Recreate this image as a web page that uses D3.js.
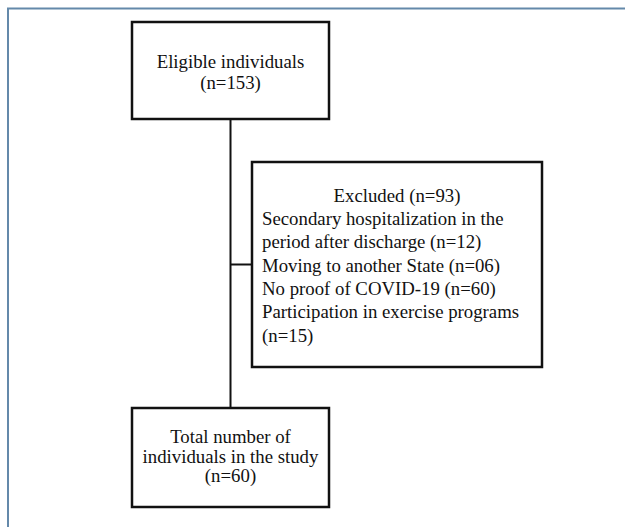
<!DOCTYPE html>
<html>
<head>
<meta charset="utf-8">
<style>
  body { margin: 0; background: #fff; }
  text { font-family: "Liberation Serif", "Times New Roman", serif; fill: #111; }
</style>
</head>
<body>
<svg id="chart" width="625" height="527"></svg>
<script src="https://d3js.org/d3.v7.min.js"></script>
<script>
  // box texts, one entry per line
  const eligibleLines = ["Eligible individuals", "(n=153)"];
  const excludedTitle = "Excluded (n=93)";
  const excludedLines = [
    "Secondary hospitalization in the",
    "period after discharge (n=12)",
    "Moving to another State (n=06)",
    "No proof of COVID-19 (n=60)",
    "Participation in exercise programs",
    "(n=15)"
  ];
  const totalLines = ["Total number of", "individuals in the study", "(n=60)"];

  const svg = d3.select("#chart");
  const fs = 18.8;

  // light frame, only top and left edges show
  svg.append("rect")
      .attr("x", 8).attr("y", 8.5)
      .attr("width", 700).attr("height", 700)
      .style("fill", "none")
      .style("stroke", "#6489aa")
      .style("stroke-width", 2);

  const boxes = [
    {x: 132, y: 22, w: 197, h: 97},   // eligible
    {x: 252, y: 162, w: 290, h: 205}, // excluded
    {x: 132, y: 408, w: 197, h: 99}   // total
  ];
  const midX = boxes[0].x + boxes[0].w / 2;
  const joinY = boxes[1].y + boxes[1].h / 2;

  // connectors
  svg.append("line")
      .attr("x1", midX).attr("x2", midX)
      .attr("y1", boxes[0].y + boxes[0].h).attr("y2", boxes[2].y)
      .style("stroke", "#111").style("stroke-width", 2);
  svg.append("line")
      .attr("x1", midX).attr("x2", boxes[1].x)
      .attr("y1", joinY).attr("y2", joinY)
      .style("stroke", "#111").style("stroke-width", 2);

  svg.selectAll("rect.box")
    .data(boxes)
    .enter()
    .append("rect")
      .attr("class", "box")
      .attr("x", d => d.x).attr("y", d => d.y)
      .attr("width", d => d.w).attr("height", d => d.h)
      .style("fill", "#fff")
      .style("stroke", "#111")
      .style("stroke-width", 2.5);

  // centred text in a box
  function centred(lines, box, firstBase, step) {
    svg.selectAll(null)
      .data(lines)
      .enter()
      .append("text")
        .attr("x", box.x + box.w / 2)
        .attr("y", (d, i) => firstBase + i * step)
        .attr("text-anchor", "middle")
        .style("font-size", fs + "px")
        .text(d => d);
  }

  centred(eligibleLines, boxes[0], 68, 21);
  centred(totalLines, boxes[2], 443, 19.5);

  const ex = boxes[1];
  svg.append("text")
      .attr("x", ex.x + ex.w / 2)
      .attr("y", 202)
      .attr("text-anchor", "middle")
      .style("font-size", fs + "px")
      .text(excludedTitle);
  svg.selectAll(null)
    .data(excludedLines)
    .enter()
    .append("text")
      .attr("x", ex.x + 10)
      .attr("y", (d, i) => 225 + i * 23.3)
      .style("font-size", fs + "px")
      .text(d => d);
</script>
</body>
</html>
